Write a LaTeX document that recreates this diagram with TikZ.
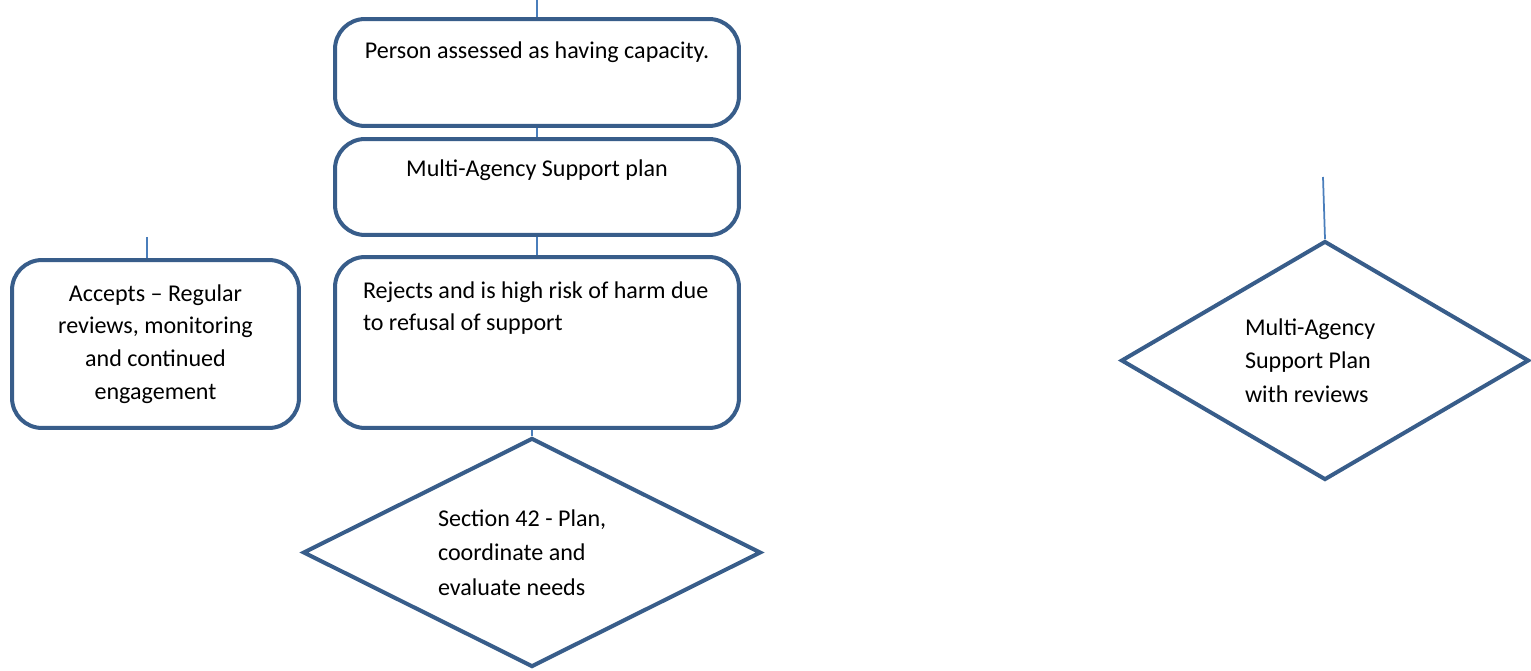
\documentclass[tikz,border=0pt]{standalone}
\usepackage{fontspec}
\setmainfont{Carlito}
\usetikzlibrary{shapes.geometric}
\definecolor{boxblue}{HTML}{385D8A}
\definecolor{lineblue}{HTML}{4A7EBB}

\begin{document}
\begin{tikzpicture}[x=0.02cm,y=-0.02cm,
  txt/.style={font=\fontsize{13.7}{18.7}\selectfont},
  box/.style={txt,draw=boxblue,line width=0.08cm,rounded corners=0.6cm,inner sep=0pt,fill=white},
  choice/.style={txt,draw=boxblue,line width=0.08cm,diamond,aspect=2,inner sep=0pt,align=flush left,fill=white},
  link/.style={draw=lineblue,line width=0.035cm}]
\useasboundingbox (0,0) rectangle (1531,671);

\node[box,minimum width=8.08cm,text height=0.8cm,text depth=1.34cm] (person) at (537,72.5) {Person assessed as having capacity.};
\node[box,minimum width=8.08cm,text height=0.76cm,text depth=1.16cm] (support) at (537,187) {Multi-Agency Support plan};
\node[box,minimum width=8.08cm,text width=6.96cm,align=flush left,inner xsep=0.56cm,text height=0.82cm,text depth=2.6cm] (rejects) at (537,342.5) {Rejects and is high risk of harm due\\to refusal of support};
\node[box,minimum width=5.74cm,minimum height=3.36cm,align=center] (accepts) at (155.5,344) {Accepts -- Regular\\reviews, monitoring\\and continued\\engagement};
\node[choice,minimum width=9.16cm,minimum height=4.58cm,text width=3.76cm,font=\fontsize{13.7}{19.6}\selectfont] (section) at (532,552.5) {Section 42 - Plan,\\coordinate and\\evaluate needs};
\node[choice,minimum width=8.16cm,minimum height=4.78cm,text width=3.2cm,font=\fontsize{13.7}{19}\selectfont] (masp) at (1325,360.5) {Multi-Agency\\Support Plan\\with reviews};

\coordinate (start) at (537,0);
\coordinate (acceptsin) at (147,237);
\coordinate (maspin) at (1323,177);

\draw[link] (start) -- (person.north);
\draw[link] (person.south) -- (support.north);
\draw[link] (support.south) -- (rejects.north);
\draw[link] (section.north |- rejects.south) -- (section.north);
\draw[link] (acceptsin) -- (acceptsin |- accepts.north);
\draw[link] (maspin) -- (masp.north);
\end{tikzpicture}
\end{document}
